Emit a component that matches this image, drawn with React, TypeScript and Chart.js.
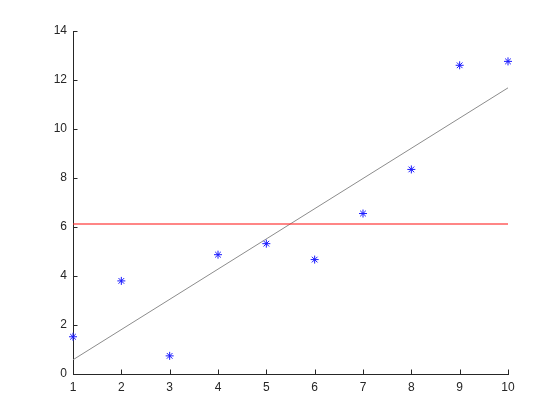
import { useEffect, useRef } from "react";
import { Chart, registerables } from "chart.js";
Chart.register(...registerables);

const xValues = [1, 2, 3, 4, 5, 6, 7, 8, 9, 10];
const yValues = [1.52, 3.8, 0.74, 4.87, 5.32, 4.67, 6.55, 8.35, 12.6, 12.76];
const meanX = [1, 10];
const meanY = [6.12, 6.12];
const fitX = [1, 10];
const fitY = [0.58, 11.68];
const xTickValues = [1, 2, 3, 4, 5, 6, 7, 8, 9, 10];
const yTickValues = [0, 2, 4, 6, 8, 10, 12, 14];

const AXIS = "#262626";

const inwardTicks = {
  id: "inwardTicks",
  afterDatasetsDraw(chart: any) {
    const { ctx, chartArea, scales } = chart;
    const xs = scales.x;
    const ys = scales.y;
    ctx.save();
    ctx.strokeStyle = AXIS;
    ctx.lineWidth = 1;
    ctx.beginPath();
    for (const v of xTickValues) {
      const px = Math.round(xs.getPixelForValue(v)) + 0.5;
      ctx.moveTo(px, chartArea.bottom);
      ctx.lineTo(px, chartArea.bottom - 4.5);
    }
    for (const v of yTickValues) {
      const py = Math.round(ys.getPixelForValue(v)) + 0.5;
      ctx.moveTo(chartArea.left, py);
      ctx.lineTo(chartArea.left + 4.5, py);
    }
    ctx.stroke();
    ctx.restore();
  },
};

export default function App() {
  const ref = useRef<HTMLCanvasElement>(null);
  useEffect(() => {
    if (!ref.current) return;
    const chart = new Chart(ref.current, {
      type: "scatter",
      data: {
        datasets: [
          {
            data: fitX.map((x, i) => ({ x, y: fitY[i] })),
            showLine: true,
            borderColor: "#8c8c8c",
            borderWidth: 1,
            pointRadius: 0,
            order: 3,
          },
          {
            data: meanX.map((x, i) => ({ x, y: meanY[i] })),
            showLine: true,
            borderColor: "rgba(255,40,40,0.75)",
            borderWidth: 1.5,
            pointRadius: 0,
            order: 2,
          },
          {
            data: xValues.map((x, i) => ({ x, y: yValues[i] })),
            showLine: false,
            pointStyle: "star",
            pointRadius: 4,
            borderColor: "#1a1aff",
            backgroundColor: "#1a1aff",
            borderWidth: 1,
            clip: false,
            order: 1,
          },
        ],
      },
      options: {
        animation: false,
        responsive: false,
        events: [],
        layout: { padding: { left: 0, right: 52, top: 31, bottom: 0 } },
        plugins: { legend: { display: false }, tooltip: { enabled: false } },
        scales: {
          x: {
            type: "linear",
            min: 1,
            max: 10,
            afterFit: (s: any) => {
              s.height = 46;
            },
            afterBuildTicks: (s: any) => {
              s.ticks = xTickValues.map((v) => ({ value: v }));
            },
            grid: { display: true, drawOnChartArea: false, drawTicks: false },
            border: { display: true, color: AXIS, width: 1 },
            ticks: {
              padding: 6,
              color: AXIS,
              font: { family: "Liberation Sans, Arial, sans-serif", size: 12 },
              maxRotation: 0,
            },
          },
          y: {
            type: "linear",
            min: 0,
            max: 14,
            afterFit: (s: any) => {
              s.width = 73;
            },
            afterBuildTicks: (s: any) => {
              s.ticks = yTickValues.map((v) => ({ value: v }));
            },
            grid: { display: true, drawOnChartArea: false, drawTicks: false },
            border: { display: true, color: AXIS, width: 1 },
            ticks: {
              padding: 6,
              color: AXIS,
              font: { family: "Liberation Sans, Arial, sans-serif", size: 12 },
            },
          },
        },
      },
      plugins: [inwardTicks],
    });
    return () => chart.destroy();
  }, []);
  return (
    <div style={{ position: "fixed", left: 0, top: 0, width: 560, height: 420, background: "#fff" }}>
      <canvas ref={ref} width={560} height={420} style={{ width: 560, height: 420 }} />
    </div>
  );
}
